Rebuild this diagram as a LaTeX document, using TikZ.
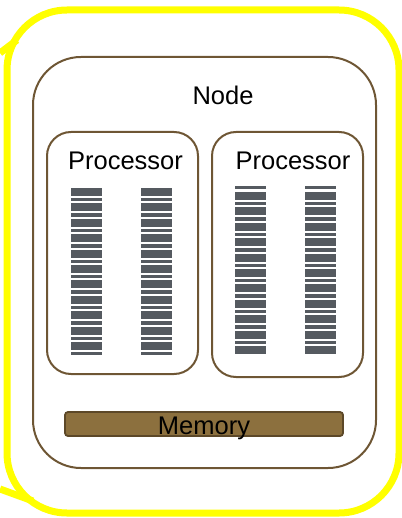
\documentclass[tikz,border=0pt]{standalone}
\usepackage{fontspec}
\setmainfont{Liberation Sans}
\usepackage{tikz}
\usetikzlibrary{positioning, calc}
\usepackage{xcolor}
\definecolor{hilite}{RGB}{255,255,0}
\definecolor{frame}{RGB}{110,86,52}
\definecolor{chip}{RGB}{85,90,96}
\definecolor{memfill}{RGB}{140,112,62}
\definecolor{memline}{RGB}{92,72,40}

% one column of register bars: x left, y of first thick bar, last thin bar index
\newcommand{\regcol}[3]{%
  \foreach \k in {0,...,10}
    \fill[chip] (#1,#2+15.4*\k) rectangle ++(31,8);
  \foreach \k in {0,...,#3}
    \fill[chip] (#1,#2+10+15.4*\k) rectangle ++(31,3.3);
}

\begin{document}
\begin{tikzpicture}[x=1pt, y=-1pt,
    every node/.style={font=\fontsize{25.5}{30}\selectfont, inner sep=0pt},
    box/.style={draw=frame, line width=2pt, rectangle},
    membox/.style={draw=memline, fill=memfill, line width=1.8pt, rounded corners=3pt, minimum width=278pt, minimum height=24pt}]
  \useasboundingbox (0,0) rectangle (401,518);

  % outer highlight
  \draw[hilite, line width=7pt, rounded corners=60pt] (7,10) rectangle (399,513);
  \coordinate (ul) at (0,53);
  \coordinate (ll) at (0,489);
  \draw[hilite, line width=7pt] (ul) -- (17,40);
  \draw[hilite, line width=7pt] (ll) -- (33,501);

  \node[box, rounded corners=48pt, minimum width=343pt, minimum height=411pt] (node) at (204.5,262.5) {};
  \node (nodelbl) at (223,95.5) {Node};

  \node[box, rounded corners=24pt, minimum width=151pt, minimum height=242pt] (proc1) at (122.5,253) {};
  \node[box, rounded corners=24pt, minimum width=151pt, minimum height=245pt] (proc2) at (287.5,254.5) {};
  \node (proc1lbl) at (125.5,161) {Processor};
  \node (proc2lbl) at (293,161) {Processor};

  % registers
  \regcol{71}{188}{10}
  \regcol{141}{188}{10}
  \regcol{235}{192}{9}
  \regcol{305}{192}{9}
  \fill[chip] (235,186) rectangle ++(31,3.3);
  \fill[chip] (305,186) rectangle ++(31,3.3);

  \node[membox] (mem) at (204,424) {};
  \node (memlbl) at (204,428) {Memory};
\end{tikzpicture}
\end{document}
